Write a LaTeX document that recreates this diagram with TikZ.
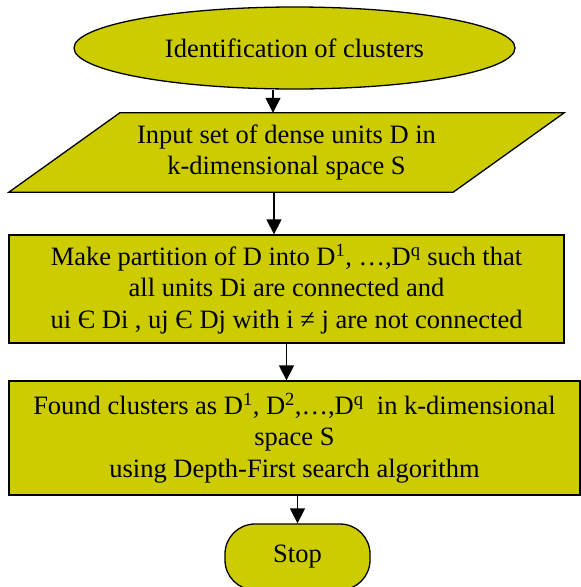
\documentclass[tikz,border=0pt]{standalone}
\usepackage{fontspec}
\setmainfont{Liberation Serif}
\usetikzlibrary{shapes.geometric,arrows.meta,backgrounds}
\definecolor{boxfill}{RGB}{204,204,0}

\begin{document}
\begin{tikzpicture}[x=1pt,y=-1pt,
  shapebase/.style={fill=boxfill, draw=black, line width=1.3pt},
  txt/.style={font=\fontsize{26.5}{31.5}\selectfont, align=center, inner sep=0pt},
  flow/.style={line width=1.4pt, -{Triangle[length=15pt,width=15pt]}}]
\useasboundingbox (0,0) rectangle (581,587);
\clip (0,0) rectangle (581,587);

% terminal: start
\node[shapebase, txt, ellipse, minimum width=441pt, minimum height=82pt]
  (start) at (294.5,48) {Identification of clusters};

% input parallelogram (text node, outline drawn behind it)
\node[txt, minimum width=444pt, minimum height=79pt]
  (inp) at (286.5,152.5) {Input set of dense units D in\\k-dimensional space S};
\begin{scope}[on background layer]
  \draw[shapebase] ([xshift=-55.5pt]inp.south west) -- ([xshift=55.5pt]inp.north west)
    -- ([xshift=55.5pt]inp.north east) -- ([xshift=-55.5pt]inp.south east) -- cycle;
\end{scope}

% process boxes
\node[shapebase, txt, rectangle, minimum width=555pt, minimum height=108pt]
  (part) at (286.5,289)
  {Make partition of D into D\textsuperscript{1}, \dots,D\textsuperscript{q} such that\\
   all units Di are connected and\\
   ui Є Di , uj Є Dj with i ≠ j are not connected};

\node[shapebase, txt, rectangle, minimum width=571pt, minimum height=114pt]
  (found) at (294.5,438)
  {Found clusters as D\textsuperscript{1}, D\textsuperscript{2},\dots,D\textsuperscript{q}\ \ in k-dimensional\\
   space S\\
   using Depth-First search algorithm};

% terminal: stop
\node[shapebase, txt, rectangle, rounded corners=30pt, minimum width=145pt, minimum height=66pt]
  (stop) at (297.5,557) {Stop};

% connectors
\draw[flow] ([xshift=-21.5pt]start.south) -- ([xshift=-21.5pt]start.south |- inp.north);
\draw[flow] ([xshift=-12.5pt]inp.south) -- ([xshift=-12.5pt]inp.south |- part.north);
\draw[flow] (part.south) -- (part.south |- found.north);
\draw[flow] (stop.north |- found.south) -- (stop.north);
\end{tikzpicture}
\end{document}
